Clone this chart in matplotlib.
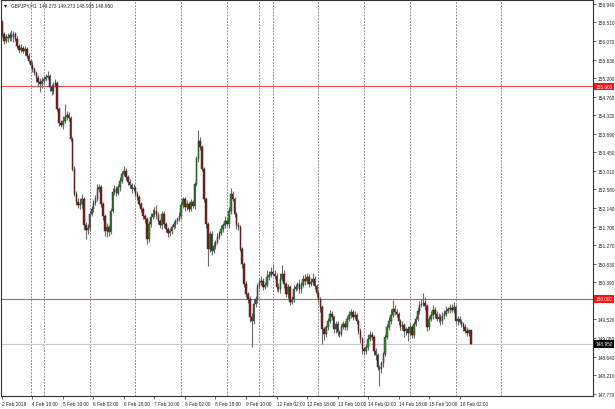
import matplotlib
matplotlib.use("Agg")
import matplotlib.pyplot as plt
import numpy as np
from matplotlib.transforms import blended_transform_factory

plt.rcParams["font.family"] = ["Liberation Sans", "DejaVu Sans"]

# ---- data (GBPJPY H1) ----
first_open = 156.52
closes = [
    156.23, 156.07, 156.16, 156.14, 156.21, 156.16, 156.23, 156.12, 155.95, 155.86,
    155.91, 155.83, 155.88, 155.72, 155.60, 155.51, 155.41, 155.32, 155.20, 155.11,
    155.06, 155.13, 155.18, 155.22, 155.25, 154.99, 154.89, 155.03, 155.08, 154.47,
    154.14, 154.09, 154.19, 154.28, 154.33, 154.26, 153.76, 153.06, 152.47, 152.28,
    152.21, 152.23, 152.35, 151.74, 151.62, 151.67, 152.00, 152.12, 152.26, 152.35,
    152.59, 152.63, 152.23, 151.95, 151.60, 151.69, 151.58, 152.07, 152.52, 152.59,
    152.49, 152.63, 152.78, 152.94, 153.01, 152.87, 152.75, 152.68, 152.59, 152.61,
    152.47, 152.40, 152.23, 152.12, 151.95, 151.88, 151.41, 151.76, 151.93, 152.00,
    152.07, 151.98, 151.83, 151.74, 152.00, 151.76, 151.65, 151.55, 151.60, 151.69,
    151.76, 151.83, 151.88, 151.95, 152.21, 152.35, 152.16, 152.23, 152.12, 152.28,
    152.19, 152.71, 153.29, 153.72, 153.58, 153.06, 152.35, 151.76, 151.18, 151.53,
    151.13, 151.25, 151.34, 151.46, 151.55, 151.65, 151.74, 151.83, 151.76, 152.07,
    152.47, 152.35, 152.00, 151.74, 151.69, 151.18, 150.82, 150.35, 150.12, 150.00,
    149.58, 149.48, 149.88, 150.00, 150.31, 150.40, 150.42, 150.28, 150.33, 150.52,
    150.56, 150.63, 150.59, 150.54, 150.28, 150.23, 150.47, 150.59, 150.35, 150.12,
    150.28, 149.93, 150.00, 150.23, 150.28, 150.35, 150.23, 150.33, 150.47, 150.42,
    150.52, 150.35, 150.40, 150.47, 150.31, 150.14, 150.00, 149.81, 149.29, 149.18,
    149.34, 149.48, 149.65, 149.58, 149.29, 149.41, 149.22, 149.18, 149.34, 149.41,
    149.34, 149.53, 149.62, 149.69, 149.58, 149.62, 149.48, 149.25, 149.06, 148.82,
    148.78, 148.87, 149.06, 149.15, 149.11, 148.78, 148.68, 148.40, 148.35, 148.49,
    148.71, 149.11, 149.34, 149.48, 149.62, 149.76, 149.69, 149.65, 149.48, 149.34,
    149.39, 149.25, 149.29, 149.20, 149.34, 149.15, 149.41, 149.53, 149.72, 149.86,
    149.88, 149.90, 149.83, 149.34, 149.53, 149.62, 149.74, 149.65, 149.53, 149.58,
    149.48, 149.60, 149.65, 149.72, 149.76, 149.79, 149.74, 149.81, 149.48, 149.53,
    149.46, 149.41, 149.34, 149.25, 149.20, 149.27, 148.95,
]
# upper / lower shadow lengths in pips (0.01)
upper_wick = [
    5, 6, 8, 10, 6, 12, 8, 5, 6, 4,
    8, 5, 6, 4, 6, 5, 8, 4, 5, 6,
    8, 10, 6, 8, 12, 5, 6, 8, 10, 4,
    5, 8, 12, 30, 10, 6, 4, 5, 6, 8,
    10, 15, 12, 4, 6, 10, 8, 6, 8, 10,
    12, 8, 5, 4, 6, 10, 5, 6, 8, 10,
    6, 8, 10, 8, 12, 6, 5, 8, 6, 10,
    5, 8, 4, 6, 5, 6, 4, 8, 10, 12,
    10, 15, 6, 5, 8, 6, 5, 4, 8, 6,
    8, 5, 6, 10, 8, 6, 5, 10, 6, 8,
    6, 5, 8, 25, 10, 5, 4, 6, 5, 8,
    6, 8, 5, 10, 6, 8, 5, 12, 6, 10,
    15, 8, 6, 5, 6, 4, 5, 6, 8, 5,
    6, 8, 12, 8, 6, 10, 12, 8, 6, 15,
    10, 12, 20, 8, 6, 10, 15, 20, 8, 6,
    8, 5, 6, 10, 8, 6, 12, 8, 10, 12,
    8, 6, 10, 15, 8, 5, 6, 5, 4, 6,
    5, 8, 10, 6, 5, 8, 6, 5, 8, 6,
    6, 8, 10, 8, 6, 10, 5, 4, 6, 5,
    6, 8, 12, 10, 8, 5, 6, 4, 5, 6,
    5, 6, 8, 10, 15, 22, 10, 8, 5, 6,
    8, 5, 6, 8, 10, 5, 8, 6, 8, 10,
    12, 25, 15, 5, 8, 10, 12, 8, 6, 8,
    6, 10, 8, 12, 6, 8, 10, 12, 5, 8,
    6, 8, 5, 6, 8, 0, 0,
]
lower_wick = [
    6, 8, 5, 10, 6, 8, 12, 6, 5, 8,
    6, 5, 8, 6, 5, 8, 6, 5, 10, 12,
    18, 10, 8, 6, 5, 10, 8, 6, 5, 4,
    6, 5, 8, 5, 6, 8, 5, 6, 5, 8,
    6, 10, 8, 12, 20, 8, 6, 5, 8, 6,
    5, 8, 6, 10, 12, 15, 10, 6, 5, 8,
    6, 5, 8, 6, 5, 8, 6, 8, 10, 6,
    8, 6, 5, 8, 6, 10, 12, 8, 6, 5,
    8, 10, 6, 8, 10, 6, 8, 10, 8, 6,
    5, 8, 6, 5, 6, 8, 10, 6, 8, 5,
    6, 8, 5, 6, 8, 5, 6, 8, 40, 8,
    10, 6, 8, 5, 6, 5, 8, 6, 5, 8,
    6, 5, 8, 10, 6, 5, 8, 6, 8, 10,
    12, 60, 8, 6, 10, 8, 6, 8, 5, 6,
    8, 5, 6, 8, 10, 6, 8, 5, 10, 8,
    10, 8, 6, 8, 5, 6, 8, 10, 6, 8,
    6, 8, 5, 6, 8, 10, 6, 12, 35, 15,
    8, 6, 5, 8, 10, 8, 10, 8, 6, 5,
    8, 6, 5, 6, 8, 5, 6, 8, 10, 12,
    10, 8, 6, 5, 8, 10, 12, 8, 40, 10,
    8, 6, 5, 6, 8, 5, 6, 8, 10, 6,
    8, 15, 10, 20, 8, 6, 8, 5, 6, 8,
    6, 5, 8, 10, 8, 6, 8, 10, 6, 8,
    10, 8, 6, 5, 6, 8, 5, 6, 8, 10,
    6, 8, 10, 6, 8, 6, 2,
]
price_ticks = [156.94, 156.51, 156.07, 155.63, 155.20, 154.76, 154.32, 153.89,
               153.45, 153.01, 152.58, 152.14, 151.70, 151.27, 150.83, 150.39,
               149.52, 149.08, 148.64, 148.21, 147.77]
date_tick_bars = [0, 16, 32, 48, 64, 80, 96, 112, 128, 144, 160, 176, 192, 208, 224, 240]
date_labels = ["2 Feb 2018", "4 Feb 18:00", "5 Feb 10:00", "6 Feb 02:00", "6 Feb 18:00",
               "7 Feb 10:00", "8 Feb 02:00", "8 Feb 18:00", "9 Feb 10:00", "12 Feb 02:00",
               "12 Feb 18:00", "13 Feb 10:00", "14 Feb 02:00", "14 Feb 18:00",
               "15 Feb 10:00", "16 Feb 02:00"]
separator_bars = [15, 22, 46, 70, 94, 118, 135, 142, 166, 190, 214, 238, 262]
levels = [155.0, 150.0]
bid = 148.95
header = "GBPJPY,H1  149.273 149.273 148.935 148.950"

# ---- derived OHLC ----
c = np.array(closes)
o = np.concatenate([[first_open], c[:-1]])
h = np.maximum(o, c) + np.array(upper_wick) / 100.0
l = np.minimum(o, c) - np.array(lower_wick) / 100.0
x = np.arange(len(c))

W, H = 615, 410
fig = plt.figure(figsize=(W / 100, H / 100), dpi=100)
fig.patch.set_facecolor("white")
ax = fig.add_axes([1 / W, 1 - 397 / H, 592 / W, 396 / H])
ax.set_facecolor("white")

fs = 3.4
# separators
for sb in separator_bars:
    ax.axvline(sb, color="#777777", lw=0.6, ls=(0, (2.2, 1.6)), zorder=1)
# levels
for lv in levels:
    ax.axhline(lv, color="#e8504a", lw=0.8, zorder=2)
ax.axhline(bid, color="#c8c8c8", lw=0.8, zorder=2)

# candles
ax.vlines(x, l, h, color="#6a6a6a", lw=0.8, zorder=3)
up = c >= o
body_bottom = np.minimum(o, c)
body_h = np.maximum(np.abs(c - o), 0.008)
colors = np.where(up, "#2f8f2f", "#8b1a1a")
ax.bar(x, body_h, bottom=body_bottom, width=0.8, color=colors,
       edgecolor="#202020", linewidth=0.3, zorder=4)

ax.set_xlim(-0.5, 310)
ax.set_ylim(147.717, 157.034)

ax.yaxis.tick_right()
ax.set_yticks(price_ticks)
ax.set_yticklabels([f"{p:.3f}" for p in price_ticks], fontsize=fs, color="#222222")
ax.tick_params(axis="y", length=2, width=0.5, pad=1.2, colors="#222222")
ax.set_xticks(date_tick_bars)
ax.set_xticklabels(date_labels, fontsize=fs, color="#222222", ha="left")
ax.tick_params(axis="x", length=2, width=0.5, pad=1.5, colors="#222222")
for sp in ax.spines.values():
    sp.set_linewidth(0.8)
    sp.set_color("#333333")

tr = blended_transform_factory(ax.transAxes, ax.transData)
for lv in levels:
    ax.text(1.004, lv, f"{lv:.3f}", transform=tr, fontsize=fs, color="white",
            va="center", ha="left",
            bbox=dict(boxstyle="square,pad=0.3", fc="#ff1010", ec="none"), clip_on=False)
ax.text(1.004, bid, f"{bid:.3f}", transform=tr, fontsize=fs, color="white",
        va="center", ha="left",
        bbox=dict(boxstyle="square,pad=0.3", fc="#000000", ec="none"), clip_on=False)

fig.text(4 / W, 1 - 6 / H, "\u25BE", fontsize=4.5, color="#222222", va="center", ha="left",
         family="DejaVu Sans")
fig.text(11 / W, 1 - 6 / H, header, fontsize=fs, color="#222222", va="center", ha="left")

fig.savefig("out.png", dpi=100, facecolor="white")
